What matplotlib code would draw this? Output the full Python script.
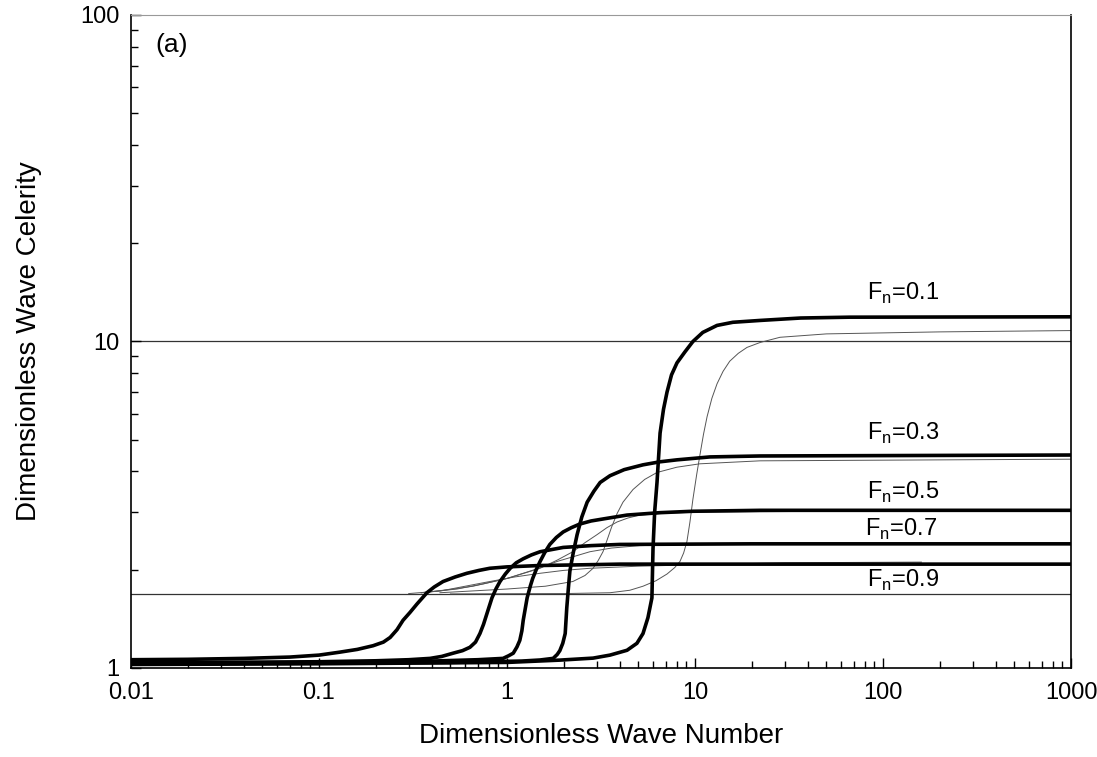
import matplotlib
matplotlib.use("Agg")
import matplotlib.pyplot as plt
from matplotlib.ticker import LogLocator, NullFormatter

plt.rcParams["font.family"] = ["Liberation Sans", "DejaVu Sans"]
plt.rcParams["mathtext.fontset"] = "custom"
plt.rcParams["mathtext.rm"] = "Liberation Sans"

# --- data (wave number k, celerity c) ---
froude = ["0.1", "0.3", "0.5", "0.7", "0.9"]

k_thick_01 = [0.01, 0.1, 1.0, 1.91, 2.87, 3.53, 4.35, 4.91, 5.29, 5.62, 5.90, 5.98, 6.10, 6.28, 6.52, 6.8, 7.10, 7.5, 8.02, 8.85,
              9.75, 11.0, 13.1, 15.9, 22.2, 36.5, 66.5, 1000]
c_thick_01 = [1.025, 1.03, 1.04, 1.057, 1.072, 1.095, 1.133, 1.19, 1.275, 1.426, 1.64, 2.32, 3.0, 3.70, 5.24, 6.2, 7.0, 7.9, 8.6, 9.3,
              10.0, 10.66, 11.2, 11.45, 11.6, 11.8, 11.87, 11.9]
k_thick_03 = [0.01, 0.1, 0.5, 1.2, 1.5, 1.76, 1.85, 1.91, 1.98, 2.04, 2.08, 2.12, 2.16, 2.25, 2.36, 2.5, 2.67, 2.9, 3.13, 3.53,
              4.2, 5.29, 6.5, 8.02, 12.0, 22.2, 1000]
c_thick_03 = [1.03, 1.035, 1.04, 1.05, 1.058, 1.07, 1.10, 1.13, 1.19, 1.275, 1.53, 1.75, 1.98, 2.25, 2.56, 2.90, 3.22, 3.48, 3.70, 3.88,
              4.05, 4.19, 4.28, 4.34, 4.43, 4.46, 4.49]
k_thick_05 = [0.01, 0.1, 0.4, 0.7, 0.953, 1.02, 1.08, 1.13, 1.17, 1.20, 1.22, 1.28, 1.33, 1.37, 1.43, 1.50, 1.59, 1.69, 1.83, 1.99,
              2.2, 2.44, 2.8, 3.24, 4.35, 6.5, 9.75, 22.2, 1000]
c_thick_05 = [1.035, 1.04, 1.05, 1.06, 1.07, 1.09, 1.11, 1.16, 1.215, 1.30, 1.40, 1.64, 1.78, 1.88, 2.0, 2.12, 2.26, 2.39, 2.51, 2.61,
              2.69, 2.76, 2.82, 2.86, 2.94, 2.99, 3.02, 3.04, 3.04]
k_thick_07 = [0.01, 0.05, 0.1, 0.2, 0.3, 0.39, 0.45, 0.517, 0.58, 0.635, 0.68, 0.718, 0.75, 0.783, 0.832, 0.875, 0.918, 0.98, 1.04,
              1.12, 1.22, 1.35, 1.50, 1.99, 2.8, 3.98, 20, 1000]
c_thick_07 = [1.04, 1.042, 1.045, 1.052, 1.06, 1.07, 1.085, 1.11, 1.13, 1.157, 1.20, 1.275, 1.36, 1.47, 1.64, 1.75, 1.84, 1.94, 2.02,
              2.10, 2.16, 2.22, 2.27, 2.34, 2.37, 2.39, 2.40, 2.40]
k_thick_09 = [0.01, 0.02, 0.04, 0.07, 0.1, 0.129, 0.16, 0.194, 0.22, 0.239, 0.26, 0.28, 0.305, 0.332, 0.355, 0.375, 0.41, 0.457,
              0.53, 0.612, 0.71, 0.81, 1.0, 1.5, 2.5, 4.0, 1000]
c_thick_09 = [1.06, 1.063, 1.07, 1.08, 1.095, 1.118, 1.14, 1.17, 1.20, 1.24, 1.31, 1.40, 1.48, 1.57, 1.64, 1.70, 1.77, 1.84,
              1.90, 1.95, 1.99, 2.02, 2.04, 2.06, 2.07, 2.08, 2.08]

k_thin_01 = [0.5, 2.0, 3.53, 4.5, 5.29, 6.2, 7.10, 7.8, 8.32, 8.7, 9.06, 9.4, 9.75, 10.2, 10.6, 11.1, 11.6, 12.3, 13.1, 14.1,
             15.3, 17, 18.9, 22.2, 28.3, 50, 200, 1000]
c_thin_01 = [1.686, 1.69, 1.70, 1.73, 1.78, 1.85, 1.94, 2.03, 2.12, 2.25, 2.44, 2.8, 3.29, 3.9, 4.46, 5.2, 5.89, 6.7, 7.42, 8.1,
             8.70, 9.2, 9.59, 9.93, 10.3, 10.55, 10.7, 10.8]
k_thin_03 = [0.44, 1.0, 1.6, 2.24, 2.6, 2.87, 3.05, 3.24, 3.42, 3.6, 3.85, 4.14, 4.68, 5.4, 6.28, 8, 10.6, 22.2, 1000]
c_thin_03 = [1.70, 1.745, 1.78, 1.84, 1.92, 2.02, 2.13, 2.27, 2.48, 2.7, 2.97, 3.22, 3.52, 3.78, 3.97, 4.12, 4.22, 4.31, 4.36]
k_thin_05 = [0.35, 0.5, 0.659, 1.0, 1.50, 1.85, 2.24, 2.6, 3.01, 3.4, 3.85, 4.4, 5.09, 7, 10, 50, 1000]
c_thin_05 = [1.70, 1.74, 1.78, 1.88, 2.02, 2.14, 2.27, 2.42, 2.56, 2.69, 2.80, 2.88, 2.94, 2.98, 3.00, 3.02, 3.03]
k_thin_07 = [0.35, 0.542, 0.75, 1.0, 1.4, 1.85, 2.3, 2.76, 3.6, 5.09, 10, 1000]
c_thin_07 = [1.70, 1.745, 1.81, 1.88, 2.0, 2.12, 2.20, 2.27, 2.33, 2.37, 2.39, 2.40]
k_thin_09 = [0.30, 0.44, 0.6, 0.81, 1.1, 1.50, 2.0, 2.76, 5, 10, 30, 160]
c_thin_09 = [1.69, 1.72, 1.78, 1.84, 1.90, 1.95, 1.99, 2.02, 2.05, 2.07, 2.10, 2.11]

ref_levels = [10.0, 1.686]
xtick_vals = [0.01, 0.1, 1, 10, 100, 1000]
xtick_labels = ["0.01", "0.1", "1", "10", "100", "1000"]
ytick_vals = [1, 10, 100]
ytick_labels = ["1", "10", "100"]

thick = [(k_thick_01, c_thick_01), (k_thick_03, c_thick_03), (k_thick_05, c_thick_05),
         (k_thick_07, c_thick_07), (k_thick_09, c_thick_09)]
thin = [(k_thin_01, c_thin_01), (k_thin_03, c_thin_03), (k_thin_05, c_thin_05),
        (k_thin_07, c_thin_07), (k_thin_09, c_thin_09)]

fig = plt.figure(figsize=(10.97, 7.57), dpi=100)
ax = fig.add_axes([0.1194, 0.1176, 0.8569, 0.8626])
ax.set_xscale("log"); ax.set_yscale("log")
ax.set_xlim(0.01, 1000); ax.set_ylim(1, 100)

for lev in ref_levels:
    ax.axhline(lev, color="#333", lw=0.9, zorder=1)
for k, c in thin:
    ax.plot(k, c, color="#555", lw=0.7, zorder=2)
for k, c in thick:
    ax.plot(k, c, color="black", lw=2.6, solid_joinstyle="round", zorder=3)

# Fn labels (x, y in data coords)
label_pos = [(82, 14.0), (82, 5.24), (82, 3.45), (80, 2.65), (82, 1.86)]
for fn, (x, y) in zip(froude, label_pos):
    ax.text(x, y, r"F$_\mathrm{n}$=" + fn, fontsize=17, ha="left", va="center")

ax.text(0.0255, 0.954, "(a)", transform=ax.transAxes, fontsize=19, ha="left", va="center")

ax.set_xticks(xtick_vals, xtick_labels)
ax.set_yticks(ytick_vals, ytick_labels)
ax.xaxis.set_minor_locator(LogLocator(base=10, subs=range(2, 10), numticks=20))
ax.yaxis.set_minor_locator(LogLocator(base=10, subs=range(2, 10), numticks=20))
ax.xaxis.set_minor_formatter(NullFormatter()); ax.yaxis.set_minor_formatter(NullFormatter())
ax.tick_params(which="both", direction="in", top=False, right=False, labelsize=17, width=1)
ax.tick_params(axis="x", which="major", length=7, pad=10)
ax.tick_params(axis="x", which="minor", length=5)
ax.tick_params(axis="y", which="major", length=7, pad=8)
ax.tick_params(axis="y", which="minor", length=5)

ax.spines["top"].set_color("#999"); ax.spines["top"].set_linewidth(0.8)
for s in ["left", "right", "bottom"]:
    ax.spines[s].set_linewidth(1.2)

ax.set_xlabel("Dimensionless Wave Number", fontsize=20, labelpad=14)
ax.set_ylabel("Dimensionless Wave Celerity", fontsize=20, labelpad=28)

fig.savefig("out.png", dpi=100)
